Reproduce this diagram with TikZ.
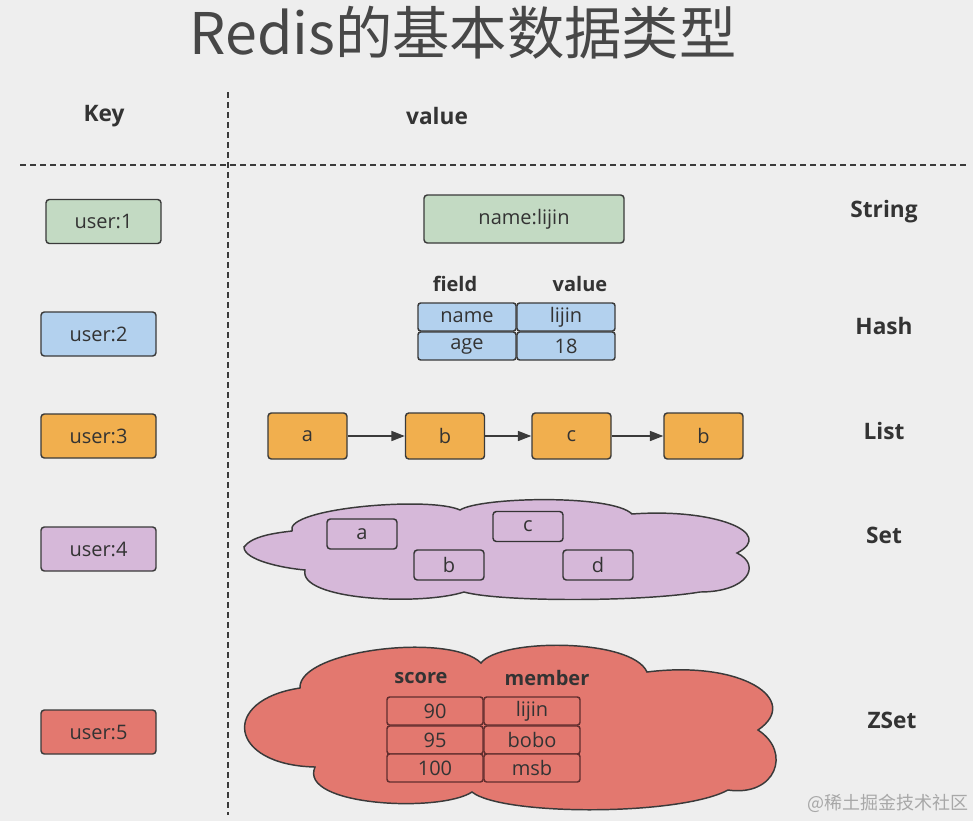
\documentclass[tikz,border=0pt]{standalone}
\usepackage{fontspec}
\setmainfont{Open Sans}
\newfontfamily\cjk{Noto Sans CJK SC}
\usetikzlibrary{arrows.meta}
\definecolor{bg}{HTML}{EEEEEE}
\definecolor{txt}{HTML}{333333}
\definecolor{edge}{HTML}{3A3A3A}
\definecolor{cgreen}{HTML}{C3DAC3}
\definecolor{cblue}{HTML}{B3D1EE}
\definecolor{corange}{HTML}{F1AF4E}
\definecolor{cpurple}{HTML}{D6B8D9}
\definecolor{cred}{HTML}{E3786F}
\definecolor{wm}{HTML}{A8A8A8}
\tikzset{
  box/.style={draw=edge, line width=1.1pt, rounded corners=2.5pt, inner sep=0pt,
    font=\fontsize{15}{18}\selectfont, text=txt},
  keybox/.style={box, minimum width=86.25pt, minimum height=33pt},
  strbox/.style={box, fill=cgreen, minimum width=150pt, minimum height=36pt},
  hcell/.style={box, fill=cblue, rounded corners=2pt, minimum width=73.5pt, minimum height=21pt},
  lbox/.style={box, fill=corange, minimum width=59.25pt, minimum height=34.5pt},
  sbox/.style={box, draw=edge!90!black, fill=cpurple, minimum width=52.5pt, minimum height=22.5pt},
  zcell/.style={box, draw=edge!80!red, fill=cred, rounded corners=2pt, minimum width=72pt, minimum height=21pt},
  lbl/.style={font=\bfseries\fontsize{17}{20}\selectfont, text=txt},
  hdr/.style={font=\bfseries\fontsize{15}{18}\selectfont, text=txt},
  sep/.style={draw=edge, line width=1.2pt, dash pattern=on 4.5pt off 3pt},
  link/.style={draw=edge, line width=1.1pt, -{Triangle[length=10pt,width=7.5pt]}},
  cloudline/.style={draw=edge, line width=1.1pt},
}
\begin{document}
\begin{tikzpicture}[x=0.75pt,y=-0.75pt]
\useasboundingbox (0,0) rectangle (973,821);
\fill[bg] (0,0) rectangle (973,821);

% title
\node[text=txt!90!white, font=\cjk\fontsize{43}{50}\selectfont] (title) at (463,33) {Redis的基本数据类型};

% headers and separators
\node[lbl] (keyh) at (104,116) {Key};
\node[lbl] (valh) at (437,116) {value};
\coordinate (vtop) at (228,92);
\coordinate (vbot) at (228,815);
\coordinate (hl) at (20,165);
\coordinate (hr) at (968,165);
\draw[sep] (vtop) -- (vbot);
\draw[sep] (hl) -- (hr);

% keys
\node[keybox, fill=cgreen] (k1) at (103.5,221.5) {user:1};
\node[keybox, fill=cblue] (k2) at (98.5,334) {user:2};
\node[keybox, fill=corange] (k3) at (98.5,436) {user:3};
\node[keybox, fill=cpurple] (k4) at (98.5,549) {user:4};
\node[keybox, fill=cred] (k5) at (98.5,732) {user:5};

% type labels
\node[lbl] (tstr) at (884,212) {String};
\node[lbl] (thash) at (884,326) {Hash};
\node[lbl] (tlist) at (884,431) {List};
\node[lbl] (tset) at (884,535) {Set};
\node[lbl] (tzset) at (892,720) {ZSet};

% String
\node[strbox] (sv) at (524,219) {name:lijin};

% Hash
\node[hdr] (hf) at (455,284) {field};
\node[hdr] (hv) at (580,284) {value};
\node[hcell] (h11) at (467,317) {name};
\node[hcell] (h12) at (566,317) {lijin};
\node[hcell] (h21) at (467,346) {age};
\node[hcell] (h22) at (566,346) {18};

% List
\node[lbox] (l1) at (307.5,436) {a};
\node[lbox] (l2) at (445,436) {b};
\node[lbox] (l3) at (571.5,436) {c};
\node[lbox] (l4) at (703.5,436) {b};
\draw[link] (l1) -- (l2);
\draw[link] (l2) -- (l3);
\draw[link] (l3) -- (l4);

% Set cloud
\filldraw[cloudline, fill=cpurple]
  (244,547) .. controls (252,536) and (275,533) .. (292,531)
  .. controls (284,508) and (430,496) .. (460,510)
  .. controls (480,497) and (612,494) .. (632,514)
  .. controls (715,508) and (776,533) .. (737,553)
  .. controls (762,565) and (748,592) .. (700,592)
  .. controls (640,602) and (500,602) .. (464,592)
  .. controls (420,606) and (298,600) .. (305,570)
  .. controls (282,568) and (244,560) .. cycle;
\node[sbox] (sa) at (362,534) {a};
\node[sbox] (sc) at (528,526.5) {c};
\node[sbox] (sb) at (449,565) {b};
\node[sbox] (sd) at (598,565) {d};

% ZSet cloud
\filldraw[cloudline, fill=cred]
  (300,688) .. controls (298,650) and (450,632) .. (481,663)
  .. controls (500,638) and (632,638) .. (647,672)
  .. controls (742,660) and (802,700) .. (758,730)
  .. controls (792,752) and (776,797) .. (728,790)
  .. controls (680,816) and (502,816) .. (472,792)
  .. controls (440,813) and (298,806) .. (315,767)
  .. controls (228,765) and (220,700) .. cycle;
\node[hdr] (zs) at (421,678) {score};
\node[hdr] (zm) at (547,678) {member};
\node[zcell] (z11) at (435,711) {90};
\node[zcell] (z12) at (532,711) {lijin};
\node[zcell] (z21) at (435,740) {95};
\node[zcell] (z22) at (532,740) {bobo};
\node[zcell] (z31) at (435,768) {100};
\node[zcell] (z32) at (532,768) {msb};

% watermark
\node[text=wm, font=\cjk\fontsize{13.5}{16}\selectfont] (wmk) at (888,803) {@稀土掘金技术社区};
\end{tikzpicture}
\end{document}
